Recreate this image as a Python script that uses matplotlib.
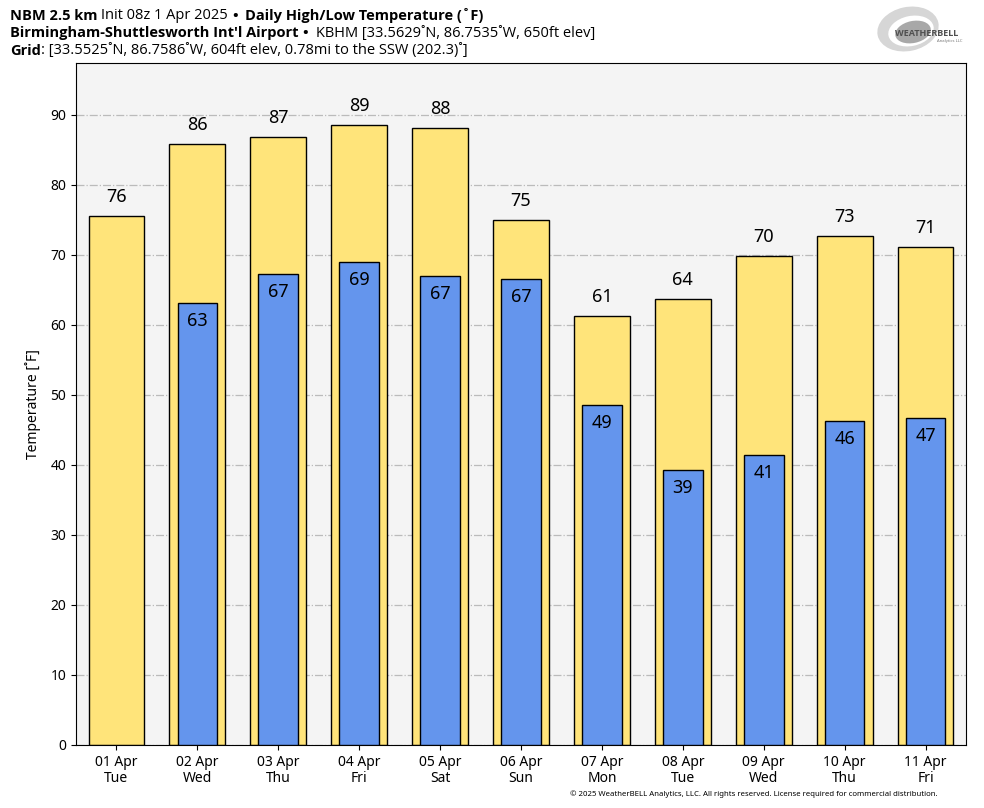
import numpy as np
import matplotlib.pyplot as plt
from matplotlib.patches import Ellipse

plt.rcParams['font.family'] = ['Noto Sans', 'DejaVu Sans']

days = ['01 Apr\nTue', '02 Apr\nWed', '03 Apr\nThu', '04 Apr\nFri', '05 Apr\nSat', '06 Apr\nSun',
        '07 Apr\nMon', '08 Apr\nTue', '09 Apr\nWed', '10 Apr\nThu', '11 Apr\nFri']
highs = [75.6, 85.9, 86.9, 88.6, 88.1, 75.0, 61.3, 63.7, 69.9, 72.7, 71.1]
lows = [np.nan, 63.1, 67.3, 69.0, 67.0, 66.6, 48.6, 39.3, 41.4, 46.3, 46.7]

# header lines: (text, weight) pieces; each leading space is a gap before the piece
header = [
    [('NBM 2.5 km', 'bold'), (' Init 08z 1 Apr 2025', 'normal'), (' •', 'bold'),
     ('  Daily High/Low Temperature (˚F)', 'bold')],
    [('Birmingham-Shuttlesworth Int′l Airport', 'bold'), (' •', 'bold'),
     ('  KBHM [33.5629˚N, 86.7535˚W, 650ft elev]', 'normal')],
    [('Grid', 'bold'), (': [33.5525˚N, 86.7586˚W, 604ft elev, 0.78mi to the SSW (202.3)˚]', 'normal')],
]

x = np.arange(len(days))

fig = plt.figure(figsize=(9.84, 8.08), dpi=100)
ax = fig.add_axes([76/984, 1 - 745/808, 890/984, 682/808])
ax.set_facecolor('#f4f4f4')

ax.bar(x, highs, width=0.69, color='#ffe47a', edgecolor='black', linewidth=1, zorder=2)
ax.bar(x, lows, width=0.49, color='#6495ed', edgecolor='black', linewidth=1, zorder=3)

for xi, h in zip(x, highs):
    ax.text(xi, h + 1.4, f'{round(h):d}', ha='center', va='bottom', fontsize=13, zorder=4)
for xi, l in zip(x, lows):
    if not np.isnan(l):
        ax.text(xi, l - 1.3, f'{round(l):d}', ha='center', va='top', fontsize=13, zorder=4)

ax.set_xlim(-0.5, len(days) - 0.5)
ax.set_ylim(0, 97.4)
ax.set_yticks(np.arange(0, 91, 10))
ax.set_xticks(x)
ax.set_xticklabels(days, fontsize=10, linespacing=1.1)
ax.tick_params(axis='y', labelsize=10)
ax.yaxis.grid(True, color='#bbbbbb', linestyle='-.', linewidth=0.9, zorder=0)
ax.set_axisbelow(True)
ax.set_ylabel('Temperature [˚F]', fontsize=10, labelpad=7)

# header, pieces chained left to right
for i, parts in enumerate(header):
    y = 1 - (20 + 17.5 * i) / 808
    prev = None
    for s, w in parts:
        kw = dict(fontsize=10.5, fontweight=w, family=['Open Sans', 'DejaVu Sans'])
        if prev is None:
            prev = fig.text(10/984, y, s, va='baseline', **kw)
        else:
            gap = 2.8 * (len(s) - len(s.lstrip()))
            prev = fig.add_artist(plt.Annotation(s.lstrip(), xy=(1, 0), xycoords=prev,
                                                 xytext=(gap, 0), textcoords='offset points',
                                                 va='bottom', **kw))

# logo
lax = fig.add_axes([875/984, 1 - 56/808, 95/984, 52/808])
lax.set_xlim(0, 95)
lax.set_ylim(0, 52)
lax.axis('off')
lax.add_patch(Ellipse((33, 27), 62, 44, angle=12, facecolor='#d6d6d6', edgecolor='none'))
lax.add_patch(Ellipse((36, 25), 46, 30, angle=12, facecolor='#ffffff', edgecolor='none'))
lax.add_patch(Ellipse((38, 24), 36, 22, angle=12, facecolor='#a8a8a8', edgecolor='none'))
lax.text(20, 23, 'WEATHERBELL', fontsize=6.5, color='#505050', fontweight='bold', va='center',
         family=['Open Sans', 'DejaVu Sans'])
lax.text(62, 15, 'Analytics LLC', fontsize=3, color='#777777', va='center')

fig.text(938/984, 1 - 794/808, '© 2025 WeatherBELL Analytics, LLC. All rights reserved. License required for commercial distribution.',
         fontsize=5.6, ha='right', va='center')

fig.savefig('out.png', dpi=100)
